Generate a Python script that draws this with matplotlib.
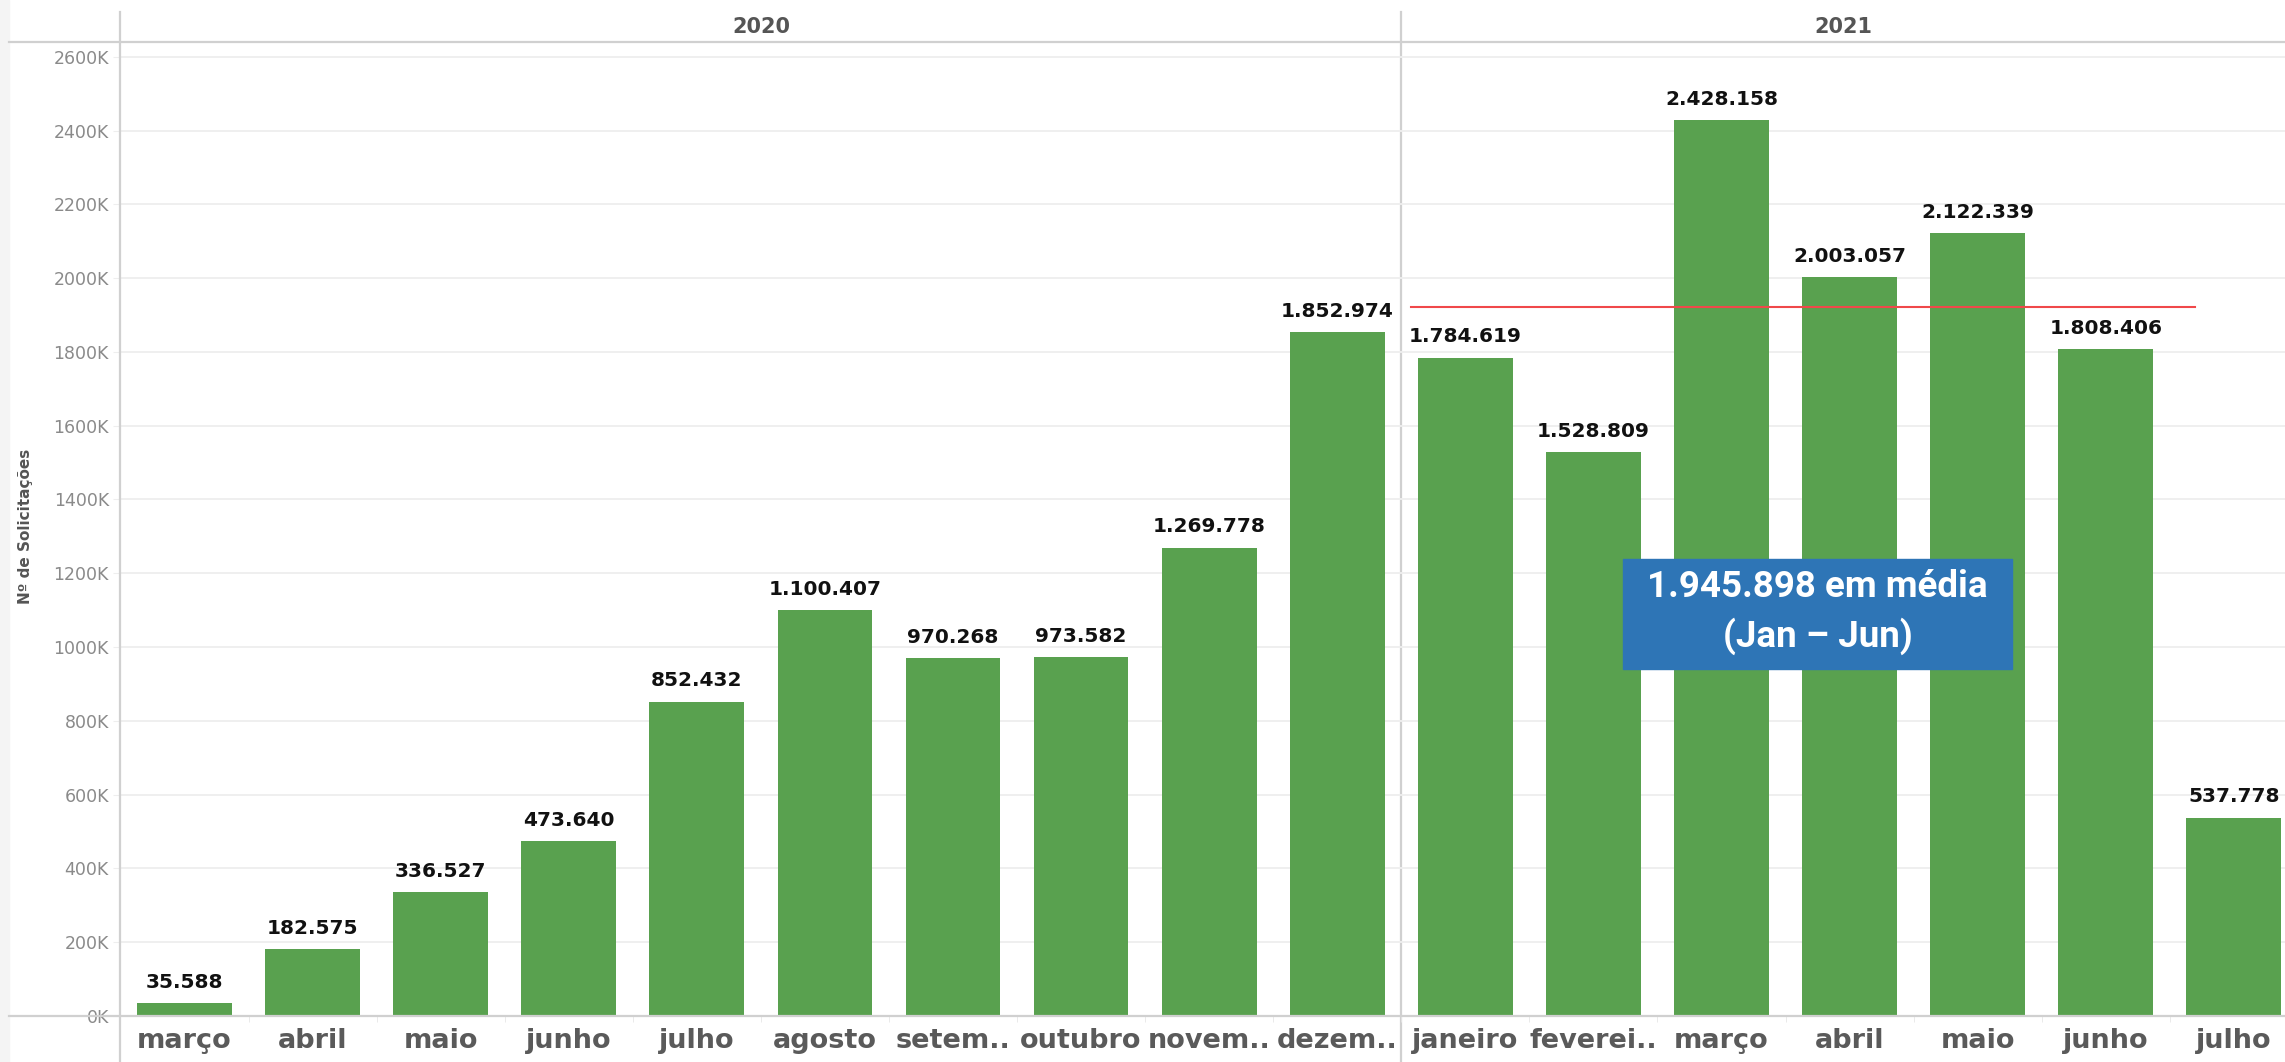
import matplotlib.pyplot as plt
from matplotlib.lines import Line2D
from matplotlib.patches import Rectangle
import matplotlib.transforms as mtransforms

# Data
years = ["2020", "2021"]
months_2020 = ["março", "abril", "maio", "junho", "julho", "agosto",
               "setem..", "outubro", "novem..", "dezem.."]
values_2020 = [35588, 182575, 336527, 473640, 852432, 1100407,
               970268, 973582, 1269778, 1852974]
months_2021 = ["janeiro", "feverei..", "março", "abril", "maio", "junho", "julho"]
values_2021 = [1784619, 1528809, 2428158, 2003057, 2122339, 1808406, 537778]

# average Jan-Jun 2021 (box text) and the red reference line as drawn
media_jan_jun = round(sum(values_2021[:6]) / 6)
ref_line_value = 1921000
y_ticks = list(range(0, 2600001, 200000))

labels = months_2020 + months_2021
values = values_2020 + values_2021
x = list(range(len(values)))

bar_color = "#59a14f"
line_grey = "#d0d0d0"
W, H = 2285, 1062

fig = plt.figure(figsize=(W / 100, H / 100), dpi=100)
ax = fig.add_axes([120 / W, 46 / H, 1 - 120 / W, (1016 - 42) / H])

ax.bar(x, values, width=0.74, color=bar_color, zorder=2)

fmt = lambda v: f"{v:,}".replace(",", ".")
for xi, v in zip(x, values):
    ax.annotate(fmt(v), (xi, v), xytext=(0, 8), textcoords="offset points",
                ha="center", va="bottom", fontsize=14.5, fontweight="bold",
                color="#111111", zorder=5)

ax.set_xlim(-0.504, 16.40)
ax.set_ylim(0, 2640000)

# axes styling
for s in ax.spines.values():
    s.set_visible(False)
ax.set_yticks(y_ticks)
ax.set_yticklabels([f"{int(v / 1000)}K" for v in y_ticks])
ax.yaxis.grid(True, color="#eeeeee", lw=1.3, zorder=0)
ax.tick_params(axis="y", length=5, color="#eeeeee", pad=3,
               labelsize=12.5, labelcolor="#8a8a8a")
ax.set_xticks(x)
ax.set_xticklabels(labels, fontsize=19.5, fontweight="bold", color="#5a5a5a")
ax.tick_params(axis="x", length=0, pad=9)
ax.set_xticks([i + 0.5 for i in x[:-1]], minor=True)
ax.tick_params(axis="x", which="minor", length=4, color="#e6e6e6")
ax.set_ylabel("Nº de Solicitações", fontsize=11, fontweight="bold",
              color="#555555")
ax.yaxis.set_label_coords((33 - 120) / (W - 120), 0.503)

# frame lines (header, axis, year divider)
fig.add_artist(Line2D([9 / W, 1], [1 - 42 / H, 1 - 42 / H], color=line_grey, lw=1.6))
fig.add_artist(Line2D([9 / W, 1], [1 - 1016 / H, 1 - 1016 / H], color=line_grey, lw=1.6))
fig.add_artist(Line2D([120 / W, 120 / W], [0, 1 - 12 / H], color=line_grey, lw=1.6))
fig.add_artist(Rectangle((0, 0), 9 / W, 1, color="#f4f4f4", zorder=0))
ax.axvline(9.5, ymin=-0.05, ymax=(1016 - 12) / 974, color=line_grey, lw=1.6,
           clip_on=False, zorder=1)

# year headers
trans = mtransforms.blended_transform_factory(ax.transData, ax.transAxes)
hdr_y = (1016 - 27) / 974
ax.text(4.5, hdr_y, years[0], transform=trans, ha="center", va="center",
        fontsize=15, fontweight="bold", color="#555555")
ax.text((9.5 + 16.40) / 2, hdr_y, years[1], transform=trans, ha="center",
        va="center", fontsize=15, fontweight="bold", color="#555555")

# average reference line
ax.plot([9.575, 15.70], [ref_line_value, ref_line_value], color="#f0484a",
        lw=1.5, zorder=4)

# annotation box
ax.add_patch(Rectangle((11.23, 940000), 3.04, 298000, color="#2e75b6", zorder=6))
ax.text(12.75, 1164000, f"{fmt(media_jan_jun)} em média", ha="center", va="center",
        fontsize=26.5, fontweight="bold", color="white", family="Roboto", zorder=7)
ax.text(12.75, 1030000, "(Jan – Jun)", ha="center", va="center",
        fontsize=26.5, fontweight="bold", color="white", family="Roboto", zorder=7)

fig.savefig("out.png", dpi=100)
